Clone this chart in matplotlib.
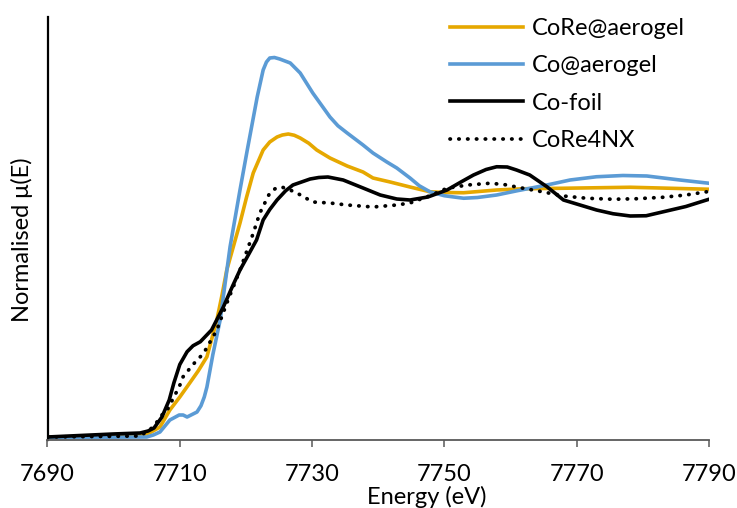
import matplotlib

matplotlib.use("Agg")
import matplotlib.pyplot as plt

plt.rcParams["font.family"] = ["Lato", "DejaVu Sans"]

# values (energy in eV, normalised mu)
core_aerogel_e = [7690.0, 7704.0, 7705.7, 7707.0, 7708.5, 7710.0, 7711.5, 7712.8, 7714.1,
                  7715.6, 7716.4, 7717.1, 7719.1, 7720.1, 7721.1, 7722.6, 7723.6, 7724.7,
                  7725.5, 7726.4, 7727.3, 7728.2, 7729.5, 7730.7, 7732.7, 7735.3, 7737.7,
                  7739.2, 7741.8, 7743.3, 7744.8, 7747.8, 7750.0, 7752.9, 7757.9, 7762.0,
                  7768.0, 7778.1, 7790.0]
core_aerogel_mu = [0.0, 0.004, 0.02, 0.04, 0.108, 0.16, 0.216, 0.265, 0.321,
                   0.468, 0.57, 0.668, 0.856, 0.96, 1.056, 1.148, 1.18, 1.2,
                   1.208, 1.212, 1.207, 1.196, 1.175, 1.148, 1.116, 1.084, 1.06,
                   1.036, 1.02, 1.01, 1.0, 0.981, 0.978, 0.977, 0.988, 0.993,
                   0.995, 0.999, 0.991]

co_aerogel_e = [7690.0, 7705.0, 7706.0, 7707.0, 7708.5, 7709.9, 7710.5, 7711.1, 7712.6,
                7713.2, 7713.7, 7714.1, 7715.0, 7716.1, 7717.6, 7719.1, 7720.2, 7721.7,
                7722.6, 7723.1, 7723.6, 7724.3, 7725.1, 7726.7, 7728.2, 7730.1, 7732.7,
                7733.9, 7735.3, 7737.7, 7739.2, 7741.3, 7742.8, 7744.8, 7746.2, 7747.8,
                7750.0, 7752.9, 7755.0, 7757.9, 7761.0, 7765.5, 7769.0, 7773.0, 7777.0,
                7780.6, 7785.6, 7790.0]
co_aerogel_mu = [-0.002, 0.0, 0.008, 0.02, 0.068, 0.088, 0.088, 0.08, 0.1,
                 0.125, 0.16, 0.2, 0.33, 0.468, 0.761, 0.988, 1.148, 1.36,
                 1.468, 1.5, 1.516, 1.518, 1.512, 1.496, 1.456, 1.376, 1.28,
                 1.245, 1.216, 1.168, 1.136, 1.1, 1.076, 1.036, 1.005, 0.981,
                 0.965, 0.955, 0.958, 0.968, 0.985, 1.008, 1.028, 1.041, 1.046,
                 1.044, 1.028, 1.015]

co_foil_e = [7690.0, 7699.9, 7704.0, 7705.2, 7706.1, 7707.3, 7708.4, 7709.1, 7710.0,
             7711.1, 7712.0, 7713.1, 7714.8, 7716.6, 7718.0, 7719.1, 7720.5, 7721.6,
             7722.6, 7723.6, 7724.7, 7726.0, 7727.1, 7729.7, 7731.0, 7732.4, 7734.7,
             7737.7, 7740.3, 7742.8, 7744.8, 7747.5, 7750.4, 7752.5, 7754.4, 7756.3,
             7757.9, 7759.5, 7760.9, 7762.9, 7765.5, 7768.0, 7773.0, 7775.5, 7778.1,
             7780.5, 7783.1, 7786.5, 7790.0]
co_foil_mu = [0.0, 0.012, 0.016, 0.024, 0.036, 0.08, 0.148, 0.216, 0.29,
              0.341, 0.365, 0.381, 0.428, 0.521, 0.605, 0.668, 0.735, 0.788,
              0.868, 0.91, 0.948, 0.985, 1.008, 1.032, 1.038, 1.04, 1.028,
              0.996, 0.968, 0.952, 0.948, 0.96, 0.988, 1.02, 1.048, 1.07,
              1.081, 1.08, 1.068, 1.048, 1.001, 0.948, 0.908, 0.893, 0.884,
              0.885, 0.901, 0.922, 0.951]

core4nx_e = [7690.0, 7704.0, 7706.0, 7707.5, 7708.1, 7709.1, 7709.9, 7710.5, 7712.0,
             7713.6, 7715.6, 7717.1, 7719.1, 7721.1, 7722.1, 7723.6, 7724.5, 7725.4,
             7726.5, 7727.7, 7730.1, 7732.7, 7735.3, 7739.2, 7742.8, 7744.8, 7747.8,
             7750.4, 7753.5, 7756.9, 7759.0, 7761.9, 7765.0, 7768.0, 7771.5, 7775.5,
             7779.0, 7783.1, 7786.5, 7789.7]
core4nx_mu = [0.0, 0.004, 0.04, 0.095, 0.108, 0.16, 0.2, 0.241, 0.29,
              0.335, 0.428, 0.535, 0.668, 0.815, 0.896, 0.976, 0.995, 1.0,
              0.99, 0.976, 0.94, 0.936, 0.928, 0.92, 0.928, 0.936, 0.965,
              0.995, 1.008, 1.015, 1.01, 0.995, 0.98, 0.964, 0.955, 0.951,
              0.953, 0.959, 0.968, 0.981]

x_ticks = [7690, 7710, 7730, 7750, 7770, 7790]

W, H = 737, 508
fig = plt.figure(figsize=(W / 100, H / 100), dpi=100)
ax = fig.add_axes([47.5 / W, (H - 440) / H, (709 - 47.5) / W, (440 - 17) / H])

ax.plot(core_aerogel_e, core_aerogel_mu, color="#e6a800", lw=2.6, label="CoRe@aerogel",
        solid_joinstyle="round")
ax.plot(co_aerogel_e, co_aerogel_mu, color="#5b9bd5", lw=2.6, label="Co@aerogel",
        solid_joinstyle="round")
ax.plot(co_foil_e, co_foil_mu, color="black", lw=2.6, label="Co-foil",
        solid_joinstyle="round")
ax.plot(core4nx_e, core4nx_mu, color="black", lw=2.7, linestyle=(0, (0.1, 2.25)),
        dash_capstyle="round", label="CoRe4NX")

ax.set_xlim(7690, 7790)
ax.set_ylim(-0.012, 1.68)
ax.set_xticks(x_ticks)
ax.set_yticks([])
ax.tick_params(axis="x", direction="out", length=5, width=1.1, color="#595959",
               labelsize=17, pad=12)
for side in ("top", "right"):
    ax.spines[side].set_visible(False)
ax.spines["left"].set_linewidth(1.6)
ax.spines["left"].set_color("black")
ax.spines["bottom"].set_linewidth(1.3)
ax.spines["bottom"].set_color("#595959")

fig.text(367 / W, 4 / H, "Energy (eV)", fontsize=17, ha="left", va="baseline")
fig.text(22 / W, 1 - 240 / H, "Normalised μ(E)", fontsize=17, rotation=90,
         ha="center", va="center")

ax.legend(loc="upper left", bbox_to_anchor=(450 / W, 1 - 18 / H),
          bbox_transform=fig.transFigure, frameon=False, fontsize=17,
          handlelength=3.1, handletextpad=0.35, labelspacing=0.69,
          borderpad=0, borderaxespad=0)

fig.savefig("out.png", dpi=100)
